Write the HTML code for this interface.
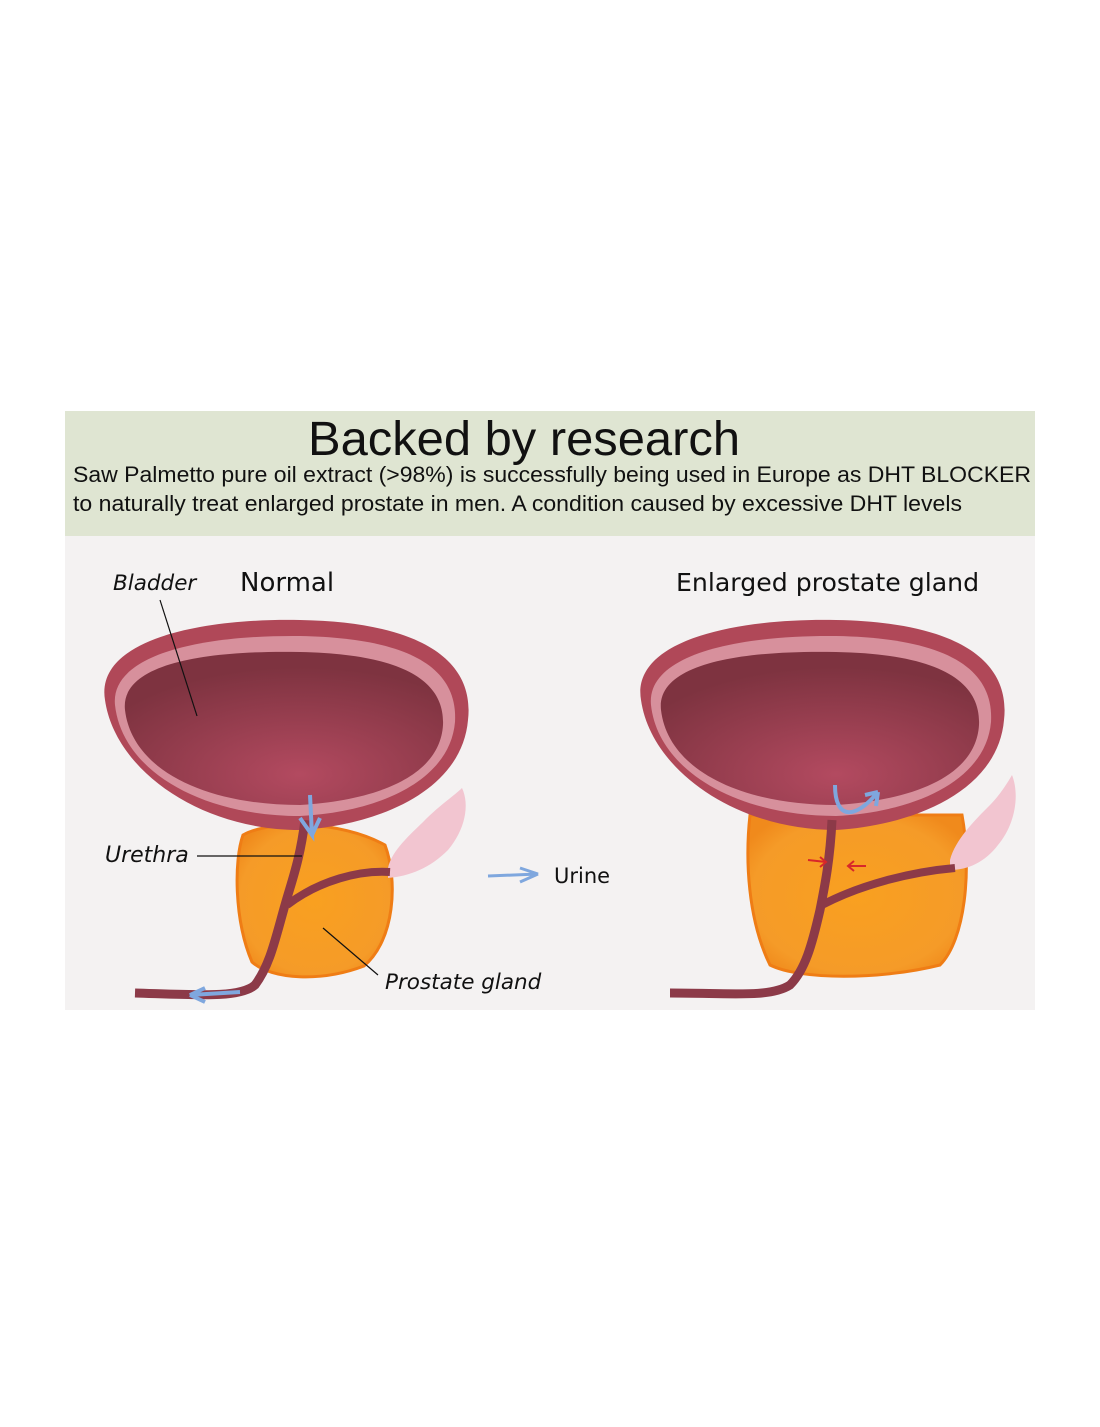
<!DOCTYPE html>
<html><head><meta charset="utf-8"><style>
html,body{margin:0;padding:0;background:#fff;}
body{width:1100px;height:1422px;position:relative;overflow:hidden;font-family:"Liberation Sans",sans-serif;}
</style></head><body>
<svg width="1100" height="1422" viewBox="0 0 1100 1422" xmlns="http://www.w3.org/2000/svg">
<defs>
<radialGradient id="cav" cx="0.55" cy="0.8" r="0.7"><stop offset="0" stop-color="#b34a60"/><stop offset="1" stop-color="#7e3340"/></radialGradient>
<radialGradient id="pr" cx="0.5" cy="0.5" r="0.6"><stop offset="0" stop-color="#f9a020"/><stop offset="0.8" stop-color="#f59b28"/><stop offset="1" stop-color="#f08a1c"/></radialGradient>
</defs>
<rect x="65" y="411" width="970" height="125" fill="#dfe5d2"/>
<rect x="65" y="536" width="970" height="474" fill="#f4f2f2"/>
<text x="308" y="455" font-size="48" textLength="432" lengthAdjust="spacingAndGlyphs" fill="#111">Backed by research</text>
<text x="73" y="482" font-size="22" textLength="958" lengthAdjust="spacingAndGlyphs" fill="#111">Saw Palmetto pure oil extract (&gt;98%) is successfully being used in Europe as DHT BLOCKER</text>
<text x="73" y="511" font-size="22" textLength="889" lengthAdjust="spacingAndGlyphs" fill="#111">to naturally treat enlarged prostate in men. A condition caused by excessive DHT levels</text>
<g font-family="'DejaVu Sans',sans-serif" fill="#111">
<text x="113" y="590" font-size="21.5" font-style="italic">Bladder</text>
<text x="240" y="591" font-size="26">Normal</text>
<text x="676" y="591" font-size="25.2">Enlarged prostate gland</text>
<text x="105" y="862" font-size="22" font-style="italic">Urethra</text>
<text x="385" y="989" font-size="21.5" font-style="italic">Prostate gland</text>
<text x="554" y="883" font-size="21">Urine</text>
</g>
<g>
<path d="M243,835 C270,820 340,820 385,845 C398,880 395,940 364,966 C322,982 272,980 252,962 C234,920 234,860 243,835Z" fill="url(#pr)" stroke="#ef7d15" stroke-width="3"/>
<path d="M105,700 C95,640 200,618 300,620 C420,622 475,660 468,720 C462,790 380,825 300,830 C200,830 115,770 105,700Z" fill="#b04858"/>
<path d="M115,705 C110,655 200,635 300,636 C410,638 458,668 455,722 C450,780 380,812 300,816 C200,816 122,770 115,705Z" fill="#d7909c"/>
<path d="M125,710 C120,665 200,650 300,652 C405,654 445,682 443,725 C440,775 380,800 300,805 C205,805 132,770 125,710Z" fill="url(#cav)"/>
<path d="M388,868 C392,850 410,835 425,820 C440,805 455,795 462,788 C470,805 465,830 448,850 C430,868 410,876 388,878Z" fill="#f2c5d0"/>
<path d="M305,820 C300,860 292,880 285,905 C275,940 270,965 255,985 C240,998 200,995 135,993" fill="none" stroke="#8c3a48" stroke-width="9"/>
<path d="M287,905 C320,880 360,870 390,872" fill="none" stroke="#8c3a48" stroke-width="8"/>
<path d="M310,795 L312,835 L300,818 M312,835 L320,818" stroke="#7fa7de" stroke-width="4" fill="none"/>
<path d="M240,992 L190,995 L205,988 M190,995 L205,1002" stroke="#7fa7de" stroke-width="4" fill="none"/>
<line x1="160" y1="600" x2="197" y2="716" stroke="#111" stroke-width="1.2"/>
<line x1="197" y1="856" x2="302" y2="856" stroke="#111" stroke-width="1.2"/>
<line x1="323" y1="928" x2="378" y2="975" stroke="#111" stroke-width="1.2"/>
</g>
<path d="M488,876 L538,874 L520,868 M538,874 L520,882" stroke="#7fa7de" stroke-width="3" fill="none"/>
<g>
<path d="M750,815 L962,815 C972,870 965,940 940,965 C880,980 800,980 770,965 C748,920 745,860 750,815Z" fill="url(#pr)" stroke="#ef7d15" stroke-width="3"/>
<path d="M641,700 C631,640 736,618 836,620 C956,622 1011,660 1004,720 C998,790 916,825 836,830 C736,830 651,770 641,700Z" fill="#b04858"/>
<path d="M651,705 C646,655 736,635 836,636 C946,638 994,668 991,722 C986,780 916,812 836,816 C736,816 658,770 651,705Z" fill="#d7909c"/>
<path d="M661,710 C656,665 736,650 836,652 C941,654 981,682 979,725 C976,775 916,800 836,805 C741,805 668,770 661,710Z" fill="url(#cav)"/>
<path d="M950,860 C955,840 975,820 990,805 C1000,795 1008,782 1012,775 C1020,795 1015,825 998,845 C985,862 968,870 950,870Z" fill="#f2c5d0"/>
<path d="M832,820 C830,860 825,885 820,910 C812,945 805,970 790,985 C770,998 730,993 670,993" fill="none" stroke="#8c3a48" stroke-width="9"/>
<path d="M822,905 C860,885 910,872 955,868" fill="none" stroke="#8c3a48" stroke-width="8"/>
<path d="M835,785 C835,820 855,820 878,792 M878,792 L865,795 M878,792 L876,806" stroke="#7fa7de" stroke-width="4" fill="none"/>
<path d="M808,860 L826,862 M820,857 L826,862 L820,867 M866,866 L848,866 M854,861 L848,866 L854,871" stroke="#d8272a" stroke-width="2" fill="none"/>
</g>
</svg>
</body></html>
